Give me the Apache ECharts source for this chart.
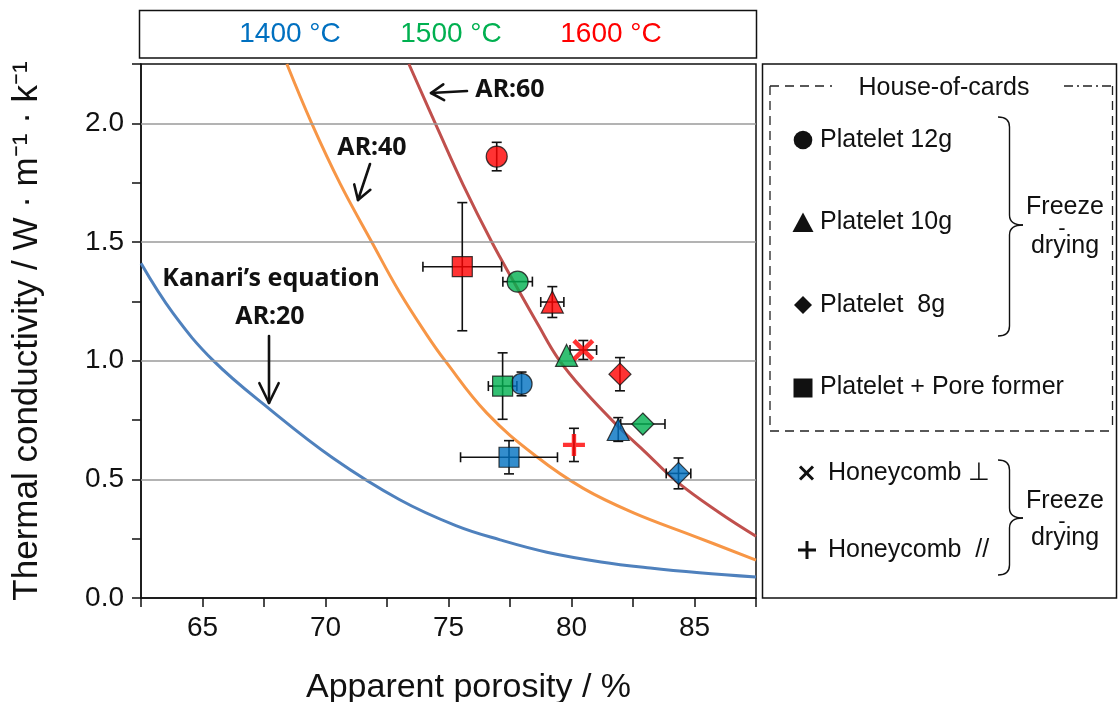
<!DOCTYPE html>
<html><head><meta charset="utf-8">
<script src="https://cdn.jsdelivr.net/npm/echarts@6/dist/echarts.min.js"></script>
<style>html,body{margin:0;padding:0;background:#fff}#c{width:1118px;height:702px}</style>
</head><body><div id="c"></div>
<script>
// ---------------- data ----------------
const temperatures = ['1400 °C', '1500 °C', '1600 °C'];
// rows: [temperature index, apparent porosity %, thermal conductivity, ± porosity, ± conductivity]
const platelet12g   = [[0, 77.97, 0.902, 0, 0.05], [1, 77.81, 1.333, 0.6, 0], [2, 76.96, 1.86, 0, 0.06]];
const platelet10g   = [[0, 81.9, 0.71, 0, 0.05], [1, 79.8, 1.022, 0, 0], [2, 79.22, 1.247, 0.47, 0.065]];
const platelet8g    = [[0, 84.35, 0.525, 0.5, 0.065], [1, 82.9, 0.733, 0.9, 0], [2, 81.97, 0.943, 0, 0.07]];
const plateletPore  = [[0, 77.46, 0.593, 1.97, 0.07], [1, 77.2, 0.893, 0.58, 0.14], [2, 75.56, 1.396, 1.6, 0.27]];
const honeycombPerp = [[2, 80.48, 1.045, 0.54, 0.04]];
const honeycombPar  = [[2, 80.1, 0.645, 0, 0.07]];
// Kanari's equation curves [porosity, conductivity]
const kanariAR20 = [[62.5, 1.41], [63.8, 1.2], [65.44, 1.0], [67.74, 0.795], [70.3, 0.59], [73.0, 0.415], [75.3, 0.305], [77.1, 0.245], [79.0, 0.193], [81.2, 0.152], [83.2, 0.126], [85.2, 0.106], [87.5, 0.088]];
const kanariAR40 = [[68.43, 2.25], [69.44, 2.0], [70.6, 1.745], [71.88, 1.5], [73.0, 1.29], [74.11, 1.11], [74.86, 1.0], [76.55, 0.78], [78.59, 0.595], [80.48, 0.462], [82.5, 0.36], [85.0, 0.26], [87.5, 0.16]];
const kanariAR60 = [[73.39, 2.25], [74.59, 1.97], [75.6, 1.74], [76.76, 1.5], [77.65, 1.333], [78.65, 1.15], [79.45, 1.01], [80.5, 0.875], [81.97, 0.715], [83.0, 0.615], [84.28, 0.49], [86.0, 0.36], [87.5, 0.26]];
const xTickLabels = [65, 70, 75, 80, 85];
const yTickLabels = [0, 0.5, 1.0, 1.5, 2.0];
const yGridLines = [0.5, 1.0, 1.5, 2.0];

// ---------------- styles ----------------
const tempColors = ['#0070C0', '#00B050', '#FF0000'];
const FONT = '"Liberation Sans", Arial, sans-serif';
const ANN = '"Noto Sans", "Open Sans", sans-serif';
const INK = '#111';

const chart = echarts.init(document.getElementById('c'), null, {renderer: 'canvas'});

function near(list, v) { return list.some(t => Math.abs(t - v) < 1e-6); }

function pts(rows) {
  return rows.map(r => ({value: [r[1], r[2]], itemStyle: {color: tempColors[r[0]]}}));
}
const allRows = [].concat(platelet12g, platelet10g, platelet8g, plateletPore, honeycombPerp, honeycombPar);

function renderErr(params, api) {
  const x = api.value(0), y = api.value(1), ex = api.value(2), ey = api.value(3);
  const ch = [], c = 5, st = {stroke: INK, lineWidth: 1.6};
  if (ey > 0) {
    const a = api.coord([x, y + ey]), b = api.coord([x, y - ey]);
    ch.push({type: 'line', shape: {x1: a[0], y1: a[1], x2: b[0], y2: b[1]}, style: st});
    ch.push({type: 'line', shape: {x1: a[0] - c, y1: a[1], x2: a[0] + c, y2: a[1]}, style: st});
    ch.push({type: 'line', shape: {x1: b[0] - c, y1: b[1], x2: b[0] + c, y2: b[1]}, style: st});
  }
  if (ex > 0) {
    const a = api.coord([x - ex, y]), b = api.coord([x + ex, y]);
    ch.push({type: 'line', shape: {x1: a[0], y1: a[1], x2: b[0], y2: b[1]}, style: st});
    ch.push({type: 'line', shape: {x1: a[0], y1: a[1] - c, x2: a[0], y2: a[1] + c}, style: st});
    ch.push({type: 'line', shape: {x1: b[0], y1: b[1] - c, x2: b[0], y2: b[1] + c}, style: st});
  }
  return {type: 'group', children: ch};
}

const xSymbol = 'path://M3,0 L10,7 L17,0 L20,3 L13,10 L20,17 L17,20 L10,13 L3,20 L0,17 L7,10 L0,3 Z';
const plusSymbol = 'path://M8,0 H12 V8 H20 V12 H12 V20 H8 V12 H0 V8 H8 Z';

function curve(data, color) {
  return {type: 'line', data: data, smooth: 0.4, showSymbol: false, symbol: 'none',
    lineStyle: {color: color, width: 3}, z: 3, silent: true};
}
function scatter(rows, symbol, size, border) {
  return {type: 'scatter', data: pts(rows), symbol: symbol, symbolSize: size, z: 6,
    itemStyle: {borderColor: border ? INK : 'transparent', borderWidth: border ? 1.2 : 0}};
}

// ---------- annotation helpers (pixel space) ----------
function arrow(x1, y1, x2, y2, len, ang) {
  const dx = x1 - x2, dy = y1 - y2, L = Math.hypot(dx, dy), ux = dx / L, uy = dy / L;
  const a = ang * Math.PI / 180, ca = Math.cos(a), sa = Math.sin(a);
  const w1 = [x2 + len * (ux * ca - uy * sa), y2 + len * (ux * sa + uy * ca)];
  const w2 = [x2 + len * (ux * ca + uy * sa), y2 + len * (-ux * sa + uy * ca)];
  const st = {stroke: INK, lineWidth: 2.6, fill: null, lineCap: 'round', lineJoin: 'round'};
  return [
    {type: 'line', shape: {x1: x1, y1: y1, x2: x2, y2: y2}, style: st, z: 20},
    {type: 'polyline', shape: {points: [w1, [x2, y2], w2]}, style: st, z: 20}
  ];
}
function txt(text, x, y, size, opts) {
  opts = opts || {};
  return {type: 'text', z: 20, style: Object.assign({text: text, x: x, y: y, fontSize: size,
    fontFamily: FONT, fill: INK, align: 'center', verticalAlign: 'middle'}, opts)};
}
function brace(x0, y0, y1, xm, tipX, tipY, r) {
  const st = {stroke: INK, lineWidth: 1.4, fill: null};
  return [
    {type: 'bezierCurve', shape: {x1: x0, y1: y0, cpx1: xm, cpy1: y0, x2: xm, y2: y0 + r}, style: st},
    {type: 'line', shape: {x1: xm, y1: y0 + r, x2: xm, y2: tipY - r}, style: st},
    {type: 'bezierCurve', shape: {x1: xm, y1: tipY - r, cpx1: xm, cpy1: tipY, x2: tipX, y2: tipY}, style: st},
    {type: 'bezierCurve', shape: {x1: tipX, y1: tipY, cpx1: xm, cpy1: tipY, x2: xm, y2: tipY + r}, style: st},
    {type: 'line', shape: {x1: xm, y1: tipY + r, x2: xm, y2: y1 - r}, style: st},
    {type: 'bezierCurve', shape: {x1: xm, y1: y1 - r, cpx1: xm, cpy1: y1, x2: x0, y2: y1}, style: st}
  ];
}

const boxSt = {stroke: INK, lineWidth: 1.5, fill: null};
const dashSt = {stroke: '#222', lineWidth: 1.3, lineDash: [9, 6], fill: null};
const blk = {fill: INK};

const graphics = [].concat(
  // top temperature box
  [{type: 'rect', shape: {x: 139.5, y: 10.5, width: 617, height: 47.5}, style: boxSt}],
  [txt(temperatures[0], 290, 34, 28, {fill: tempColors[0]}),
   txt(temperatures[1], 451, 34, 28, {fill: tempColors[1]}),
   txt(temperatures[2], 611, 34, 28, {fill: tempColors[2]})],
  // right legend box
  [{type: 'rect', shape: {x: 762.5, y: 64, width: 354, height: 534}, style: boxSt},
   {type: 'line', shape: {x1: 770, y1: 86, x2: 832, y2: 86}, style: dashSt},
   {type: 'line', shape: {x1: 1064, y1: 86, x2: 1112.5, y2: 86}, style: Object.assign({}, dashSt, {lineDash: [9, 4, 2, 4]})},
   {type: 'line', shape: {x1: 770, y1: 86, x2: 770, y2: 431}, style: dashSt},
   {type: 'line', shape: {x1: 1112.5, y1: 86, x2: 1112.5, y2: 431}, style: dashSt},
   {type: 'line', shape: {x1: 770, y1: 431, x2: 1112.5, y2: 431}, style: dashSt}],
  [txt('House-of-cards', 944, 88, 25)],
  [{type: 'circle', shape: {cx: 803, cy: 140, r: 9.3}, style: blk},
   {type: 'polygon', shape: {points: [[803, 212.5], [813.5, 232], [792.5, 232]]}, style: blk},
   {type: 'polygon', shape: {points: [[803, 296], [812, 305], [803, 314], [794, 305]]}, style: blk},
   {type: 'rect', shape: {x: 793.5, y: 378.5, width: 19, height: 19}, style: blk}],
  [txt('Platelet 12g', 820, 140, 25, {align: 'left'}),
   txt('Platelet 10g', 820, 222, 25, {align: 'left'}),
   txt('Platelet  8g', 820, 305, 25, {align: 'left'}),
   txt('Platelet + Pore former', 820, 387, 25, {align: 'left'})],
  brace(998, 117, 336, 1009.5, 1023, 225, 10),
  [txt('Freeze', 1065, 207, 25), txt('-', 1062, 229, 22), txt('drying', 1065, 246, 25)],
  // honeycomb part
  [{type: 'line', shape: {x1: 800, y1: 466.5, x2: 813, y2: 479.5}, style: {stroke: INK, lineWidth: 3}},
   {type: 'line', shape: {x1: 813, y1: 466.5, x2: 800, y2: 479.5}, style: {stroke: INK, lineWidth: 3}},
   {type: 'line', shape: {x1: 798, y1: 550, x2: 816, y2: 550}, style: {stroke: INK, lineWidth: 3}},
   {type: 'line', shape: {x1: 807, y1: 541, x2: 807, y2: 559}, style: {stroke: INK, lineWidth: 3}}],
  [txt('Honeycomb \u22A5', 828, 473, 25, {align: 'left'}),
   txt('Honeycomb  //', 828, 550, 25, {align: 'left'})],
  brace(998, 460, 575, 1009.5, 1023, 518, 10),
  [txt('Freeze', 1065, 501, 25), txt('-', 1062, 522, 22), txt('drying', 1065, 538, 25)],
  // curve annotations
  [txt('AR:60', 510, 90, 25, {fontFamily: ANN, fontWeight: 'bold'}),
   txt('AR:40', 372, 148, 25, {fontFamily: ANN, fontWeight: 'bold'}),
   txt('Kanari\u2019s equation', 271, 279, 25, {fontFamily: ANN, fontWeight: 'bold'}),
   txt('AR:20', 270, 317, 25, {fontFamily: ANN, fontWeight: 'bold'})],
  arrow(467, 91, 431, 93, 15, 32),
  arrow(370, 164, 358, 200, 16, 32),
  arrow(269, 336, 269, 403, 22, 26)
);

const option = {
  animation: false,
  backgroundColor: '#fff',
  grid: {left: 141, right: 362, top: 64, bottom: 104, containLabel: false, outerBoundsMode: 'none',
    show: true, borderColor: INK, borderWidth: 1.5, backgroundColor: 'transparent'},
  xAxis: {
    type: 'value', min: 62.5, max: 87.5, interval: 2.5,
    axisLine: {show: true, onZero: false, lineStyle: {color: INK, width: 1.5}},
    axisTick: {show: true, inside: false, length: 9, lineStyle: {color: INK, width: 1.5}},
    axisLabel: {margin: 16, fontSize: 28, fontFamily: FONT, color: INK,
      formatter: v => near(xTickLabels, v) ? String(v) : ''},
    splitLine: {show: false},
    name: 'Apparent porosity / %', nameLocation: 'middle', nameGap: 73,
    nameTextStyle: {fontSize: 34, fontFamily: FONT, color: INK, padding: [0, 0, 0, 40]}
  },
  yAxis: {
    type: 'value', min: 0, max: 2.25, interval: 0.25,
    axisLine: {show: true, onZero: false, lineStyle: {color: INK, width: 1.5}},
    axisTick: {show: true, inside: false, length: 9, lineStyle: {color: INK, width: 1.5}},
    axisLabel: {margin: 17, fontSize: 28, fontFamily: FONT, color: INK,
      formatter: v => near(yTickLabels, v) ? v.toFixed(1) : ''},
    splitLine: {show: false},
    name: 'Thermal conductivity / W \u00B7 m\u207B\u00B9 \u00B7 k\u207B\u00B9', nameLocation: 'middle', nameGap: 96, nameRotate: 90,
    nameTextStyle: {fontSize: 35, fontFamily: FONT, color: INK}
  },
  series: [
    {type: 'line', data: [], silent: true, z: 1,
      markLine: {silent: true, symbol: 'none', label: {show: false}, animation: false,
        lineStyle: {color: '#9a9a9a', width: 1.6, type: 'solid'},
        data: yGridLines.map(v => ({yAxis: v}))}},
    curve(kanariAR20, '#4F81BD'),
    curve(kanariAR40, '#F79646'),
    curve(kanariAR60, '#C0504D'),
    {type: 'custom', renderItem: renderErr, z: 5, silent: true,
      encode: {x: 0, y: 1},
      data: allRows.map(r => [r[1], r[2], r[3], r[4]])},
    scatter(platelet12g, 'circle', 21, true),
    scatter(platelet10g, 'triangle', 22, true),
    scatter(platelet8g, 'diamond', 22, true),
    scatter(plateletPore, 'rect', 20, true),
    scatter(honeycombPerp, xSymbol, 22, false),
    scatter(honeycombPar, plusSymbol, 22, false)
  ],
  graphic: graphics
};
chart.setOption(option);
</script>
</body></html>
